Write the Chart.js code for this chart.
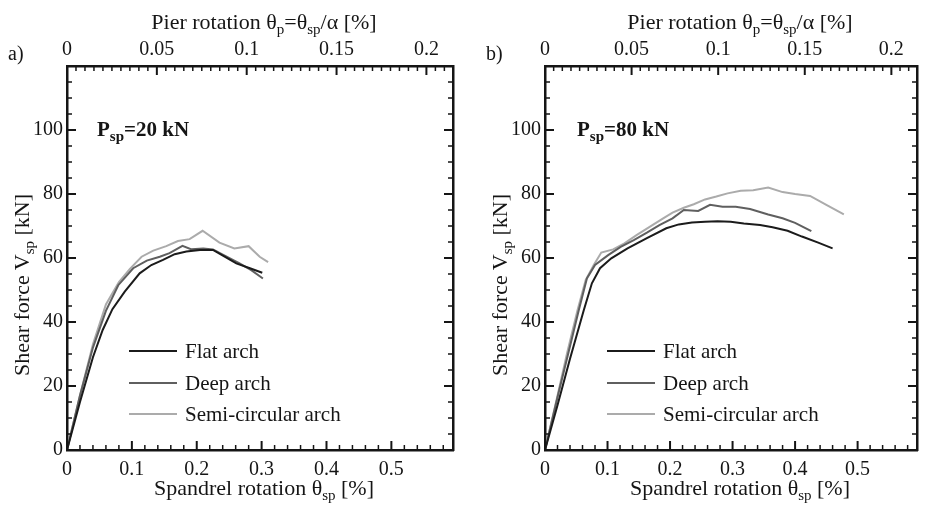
<!DOCTYPE html>
<html>
<head>
<meta charset="utf-8">
<script src="https://cdn.jsdelivr.net/npm/chart.js@4.4.1/dist/chart.umd.min.js"></script>
<style>
  body { margin: 0; width: 928px; height: 510px; position: relative; background: #fff; overflow: hidden;
         font-family: "Liberation Serif", "DejaVu Serif", serif; color: #151515; }
  .panel { position: absolute; top: 0; width: 464px; height: 510px; }
  .panel canvas { position: absolute; left: 0; top: 0; }
  .txt { position: absolute; white-space: nowrap; line-height: 1; font-size: 22px; }
  .ctr { transform: translateX(-50%); }
  .rot { transform: translate(-50%, -50%) rotate(-90deg); }
  .txt sub { font-size: 15px; vertical-align: -5px; line-height: 0; }
  .note { font-weight: bold; font-size: 21px; }
  .note sub { font-size: 15px; }
</style>
</head>
<body>

<div class="panel" id="panelA">
  <canvas id="chartA" width="464" height="510"></canvas>
  <div class="txt" style="left:8px;top:43px;font-size:20px">a)</div>
  <div class="txt ctr" style="left:264px;top:11px">Pier rotation θ<sub>p</sub>=θ<sub>sp</sub>/α [%]</div>
  <div class="txt ctr" style="left:264px;top:477px">Spandrel rotation θ<sub>sp</sub> [%]</div>
  <div class="txt rot" style="left:22px;top:285px">Shear force V<sub>sp</sub> [kN]</div>
  <div class="txt note" style="left:97px;top:119px">P<sub>sp</sub>=20 kN</div>
</div>

<div class="panel" id="panelB" style="left:464px">
  <canvas id="chartB" width="464" height="510"></canvas>
  <div class="txt" style="left:22px;top:43px;font-size:20px">b)</div>
  <div class="txt ctr" style="left:276px;top:11px">Pier rotation θ<sub>p</sub>=θ<sub>sp</sub>/α [%]</div>
  <div class="txt ctr" style="left:276px;top:477px">Spandrel rotation θ<sub>sp</sub> [%]</div>
  <div class="txt rot" style="left:36px;top:285px">Shear force V<sub>sp</sub> [kN]</div>
  <div class="txt note" style="left:113px;top:119px">P<sub>sp</sub>=80 kN</div>
</div>

<script>
const seriesNames = ["Flat arch", "Deep arch", "Semi-circular arch"];
const seriesColors = ["#1b1b1b", "#5f5f5f", "#ababab"];

// tick labels
const spandrelTicks = [0, 0.1, 0.2, 0.3, 0.4, 0.5];
const pierTicks = [0, 0.05, 0.1, 0.15, 0.2];
const forceTicks = [0, 20, 40, 60, 80, 100];

const spandrelMax = 0.595;
const forceMax = 120;
const alpha = 2.77; // theta_p = theta_sp / alpha

// a) Psp = 20 kN
const flatA_rot = [0, 0.02, 0.04, 0.055, 0.07, 0.089, 0.112, 0.130, 0.148, 0.166, 0.184, 0.205, 0.225, 0.243, 0.261, 0.282, 0.301];
const flatA_V   = [0, 15, 29, 37.5, 44, 49.5, 55.2, 57.8, 59.4, 61.2, 62.0, 62.5, 62.5, 60.4, 58.3, 56.8, 55.4];
const deepA_rot = [0, 0.02, 0.04, 0.06, 0.079, 0.102, 0.123, 0.143, 0.158, 0.178, 0.192, 0.210, 0.225, 0.246, 0.266, 0.284, 0.302];
const deepA_V   = [0, 17, 32, 43.5, 51.5, 56.8, 59.2, 60.4, 61.5, 63.8, 62.7, 63.0, 62.7, 60.4, 58.3, 56.2, 53.6];
const semiA_rot = [0, 0.02, 0.04, 0.06, 0.08, 0.097, 0.115, 0.133, 0.153, 0.171, 0.189, 0.209, 0.235, 0.258, 0.280, 0.297, 0.310];
const semiA_V   = [0, 17, 33, 45.5, 52.5, 56.6, 60.4, 62.3, 63.7, 65.3, 65.9, 68.5, 64.8, 63.0, 63.7, 60.4, 58.7];

// b) Psp = 80 kN
const flatB_rot = [0, 0.02, 0.04, 0.062, 0.075, 0.088, 0.106, 0.132, 0.163, 0.194, 0.214, 0.235, 0.256, 0.276, 0.297, 0.318, 0.344, 0.364, 0.388, 0.411, 0.437, 0.460];
const flatB_V   = [0, 14, 28.5, 43.7, 52.1, 56.8, 59.9, 63.0, 66.2, 69.3, 70.5, 71.1, 71.3, 71.5, 71.3, 70.8, 70.3, 69.6, 68.5, 66.7, 64.8, 63.0];
const deepB_rot = [0, 0.02, 0.037, 0.054, 0.067, 0.080, 0.101, 0.121, 0.142, 0.163, 0.183, 0.204, 0.222, 0.245, 0.264, 0.284, 0.305, 0.328, 0.357, 0.380, 0.400, 0.426];
const deepB_V   = [0, 16.5, 30, 43.7, 53.6, 57.8, 60.9, 63.5, 65.6, 67.9, 70.3, 72.4, 75.0, 74.7, 76.6, 76.0, 76.0, 75.3, 73.6, 72.4, 71.0, 68.4];
const semiB_rot = [0, 0.02, 0.035, 0.052, 0.065, 0.078, 0.090, 0.109, 0.127, 0.147, 0.168, 0.189, 0.204, 0.222, 0.238, 0.256, 0.274, 0.292, 0.313, 0.333, 0.357, 0.380, 0.400, 0.424, 0.450, 0.478];
const semiB_V   = [0, 17, 30, 43.7, 53.1, 57.8, 61.7, 62.7, 64.6, 67.2, 69.8, 72.4, 74.2, 75.7, 76.8, 78.3, 79.2, 80.2, 81.0, 81.2, 82.0, 80.6, 80.0, 79.4, 76.6, 73.6];

const toPoints = (xs, ys) => xs.map((x, i) => ({ x: x, y: ys[i] }));

function makeDatasets(series) {
  return series.map((s, i) => ({
    label: seriesNames[i],
    data: toPoints(s[0], s[1]),
    borderColor: seriesColors[i],
    borderWidth: 2,
    pointRadius: 0,
    tension: 0,
    fill: false,
  }));
}

// ticks pointing inward, drawn on all four sides
const inwardTicks = {
  id: "inwardTicks",
  afterDraw(chart) {
    const { ctx, chartArea: a, scales } = chart;
    ctx.save();
    ctx.strokeStyle = "#151515";
    const near = (v, step) => Math.abs(v / step - Math.round(v / step)) < 1e-6;
    // bottom axis
    for (let v = 0; v <= spandrelMax + 1e-9; v += 0.02) {
      const px = scales.x.getPixelForValue(v);
      const major = near(v, 0.1);
      ctx.lineWidth = major ? 2 : 1.5;
      ctx.beginPath();
      ctx.moveTo(px, a.bottom);
      ctx.lineTo(px, a.bottom - (major ? 9 : 5));
      ctx.stroke();
    }
    // top axis
    for (let v = 0; v <= scales.x2.max + 1e-9; v += 0.005) {
      const px = scales.x2.getPixelForValue(v);
      const major = near(v, 0.05);
      ctx.lineWidth = major ? 2 : 1.5;
      ctx.beginPath();
      ctx.moveTo(px, a.top);
      ctx.lineTo(px, a.top + (major ? 9 : 5));
      ctx.stroke();
    }
    // left and right axes
    for (let v = 0; v <= forceMax; v += 5) {
      const py = scales.y.getPixelForValue(v);
      const major = near(v, 20);
      const len = major ? 9 : 5;
      ctx.lineWidth = major ? 2 : 1.5;
      ctx.beginPath();
      ctx.moveTo(a.left, py);
      ctx.lineTo(a.left + len, py);
      ctx.moveTo(a.right, py);
      ctx.lineTo(a.right - len, py);
      ctx.stroke();
    }
    ctx.restore();
  },
};

// legend inside the plot, lower left
const innerLegend = {
  id: "innerLegend",
  afterDraw(chart) {
    const { ctx, chartArea: a } = chart;
    const rows = [a.bottom - 99, a.bottom - 67, a.bottom - 36];
    ctx.save();
    ctx.font = '21px "Liberation Serif", serif';
    ctx.textBaseline = "middle";
    chart.data.datasets.forEach((ds, i) => {
      ctx.strokeStyle = ds.borderColor;
      ctx.lineWidth = 2;
      ctx.beginPath();
      ctx.moveTo(a.left + 62, rows[i]);
      ctx.lineTo(a.left + 110, rows[i]);
      ctx.stroke();
      ctx.fillStyle = "#151515";
      ctx.fillText(ds.label, a.left + 118, rows[i] + 1);
    });
    ctx.restore();
  },
};

const tickFont = { family: '"Liberation Serif", serif', size: 20 };
const fmt = (v) => String(+Number(v).toFixed(3));
const border = { display: true, color: "#151515", width: 2.5 };
const noGrid = { display: true, drawOnChartArea: false, drawTicks: false };

function makeConfig(datasets, leftW) {
  return {
    type: "line",
    data: { datasets: datasets },
    options: {
      responsive: false,
      animation: false,
      layout: { padding: 0 },
      plugins: { legend: { display: false }, tooltip: { enabled: false } },
      scales: {
        x: {
          type: "linear", position: "bottom", min: 0, max: spandrelMax,
          afterBuildTicks: (s) => { s.ticks = spandrelTicks.map((v) => ({ value: v })); },
          afterFit: (s) => { s.height = 60; },
          ticks: { font: tickFont, color: "#151515", padding: 8, maxRotation: 0, callback: fmt },
          grid: noGrid, border: border,
        },
        x2: {
          type: "linear", position: "top", min: 0, max: spandrelMax / alpha,
          afterBuildTicks: (s) => { s.ticks = pierTicks.map((v) => ({ value: v })); },
          afterFit: (s) => { s.height = 66; },
          ticks: { font: tickFont, color: "#151515", padding: 4, maxRotation: 0, callback: fmt },
          grid: noGrid, border: border,
        },
        y: {
          type: "linear", position: "left", min: 0, max: forceMax,
          afterBuildTicks: (s) => { s.ticks = forceTicks.map((v) => ({ value: v })); },
          afterFit: (s) => { s.width = leftW; },
          ticks: { font: tickFont, color: "#151515", padding: 4, callback: fmt },
          grid: noGrid, border: border,
        },
        y2: {
          type: "linear", position: "right", min: 0, max: forceMax,
          afterFit: (s) => { s.width = 11; },
          ticks: { display: false },
          grid: noGrid, border: border,
        },
      },
    },
    plugins: [inwardTicks, innerLegend],
  };
}

const chartA = new Chart(document.getElementById("chartA"), makeConfig(makeDatasets([
  [flatA_rot, flatA_V], [deepA_rot, deepA_V], [semiA_rot, semiA_V],
]), 67));

const chartB = new Chart(document.getElementById("chartB"), makeConfig(makeDatasets([
  [flatB_rot, flatB_V], [deepB_rot, deepB_V], [semiB_rot, semiB_V],
]), 81));
</script>
</body>
</html>
